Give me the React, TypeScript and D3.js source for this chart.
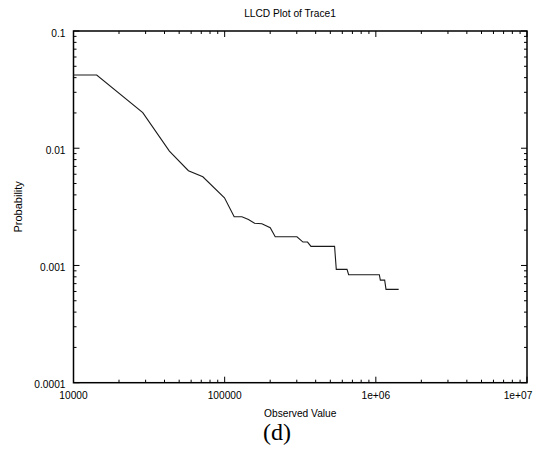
import React from "react";
import * as d3 from "d3";

const observedValues: number[] = [
  10000, 14240, 28720, 43090, 57590, 71720, 99700, 115600, 130000, 143700,
  157600, 176300, 200200, 216000, 300800, 329500, 353400, 372400, 533500,
  547400, 644800, 660700, 1054900, 1071000, 1144000, 1168000, 1416000,
];
const probabilities: number[] = [
  0.0421, 0.0421, 0.0201, 0.00946, 0.00643, 0.00571, 0.00378, 0.0026, 0.0026,
  0.00247, 0.00229, 0.00227, 0.0021, 0.001757, 0.001757, 0.001584, 0.001584,
  0.001455, 0.001455, 0.000926, 0.000926, 0.000833, 0.000833, 0.00075,
  0.00075, 0.000625, 0.000625,
];
const xTickValues: number[] = [1e4, 1e5, 1e6, 1e7];
const xTickLabels: string[] = ["10000", "100000", "1e+06", "1e+07"];
const yTickValues: number[] = [0.1, 0.01, 0.001, 0.0001];
const yTickLabels: string[] = ["0.1", "0.01", "0.001", "0.0001"];

const W = 544;
const H = 450;
const L = 73.5;
const R = 527;
const T = 31;
const B = 382.7;
const FONT = "'Liberation Sans', Arial, sans-serif";

export default function App() {
  const x = d3.scaleLog().domain([1e4, 1e7]).range([L, R]);
  const y = d3.scaleLog().domain([1e-4, 0.1]).range([B, T]);
  const pts = observedValues.map((v, i) => [v, probabilities[i]] as [number, number]);
  const line = d3
    .line<[number, number]>()
    .x((d) => x(d[0]))
    .y((d) => y(d[1]));

  const xMinor: number[] = [];
  for (let e = 4; e < 7; e++) for (let k = 2; k <= 9; k++) xMinor.push(k * Math.pow(10, e));
  const yMinor: number[] = [];
  for (let e = -4; e < -1; e++) for (let k = 2; k <= 9; k++) yMinor.push(k * Math.pow(10, e));

  const majorLen = 6;
  const minorLen = 3;

  return (
    <svg
      width={W}
      height={H}
      style={{ position: "absolute", left: 0, top: 0, background: "#fff" }}
    >
      <rect x={0} y={0} width={W} height={H} fill="#fff" />
      <g stroke="#000" strokeWidth={1}>
        {xMinor.map((v) => (
          <g key={"xm" + v}>
            <line x1={x(v)} x2={x(v)} y1={B} y2={B - minorLen} />
            <line x1={x(v)} x2={x(v)} y1={T} y2={T + minorLen} />
          </g>
        ))}
        {xTickValues.map((v) => (
          <g key={"xM" + v}>
            <line x1={x(v)} x2={x(v)} y1={B} y2={B - majorLen} />
            <line x1={x(v)} x2={x(v)} y1={T} y2={T + majorLen} />
          </g>
        ))}
        {yMinor.map((v) => (
          <g key={"ym" + v}>
            <line x1={L} x2={L + minorLen} y1={y(v)} y2={y(v)} />
            <line x1={R} x2={R - minorLen} y1={y(v)} y2={y(v)} />
          </g>
        ))}
        {yTickValues.map((v) => (
          <g key={"yM" + v}>
            <line x1={L} x2={L + majorLen} y1={y(v)} y2={y(v)} />
            <line x1={R} x2={R - majorLen} y1={y(v)} y2={y(v)} />
          </g>
        ))}
      </g>
      <rect
        x={L}
        y={T}
        width={R - L}
        height={B - T}
        fill="none"
        stroke="#000"
        strokeWidth={1.5}
      />
      <path d={line(pts) || ""} fill="none" stroke="#1a1a1a" strokeWidth={1.1} />
      <g fontFamily={FONT} fontSize={10.2} fill="#000">
        {xTickValues.map((v, i) => (
          <text
            key={"xl" + v}
            x={i === xTickValues.length - 1 ? x(v) - 9 : x(v)}
            y={B + 16}
            textAnchor="middle"
          >
            {xTickLabels[i]}
          </text>
        ))}
        {yTickValues.map((v, i) => (
          <text key={"yl" + v} x={L - 8} y={y(v) + 5.5} textAnchor="end">
            {yTickLabels[i]}
          </text>
        ))}
        <text x={290} y={17} textAnchor="middle">
          LLCD Plot of Trace1
        </text>
        <text x={(L + R) / 2} y={417} textAnchor="middle">
          Observed Value
        </text>
        <text
          transform={`translate(22,${(T + B) / 2}) rotate(-90)`}
          textAnchor="middle"
          fontSize={11}
        >
          Probability
        </text>
      </g>
      <text
        x={277}
        y={440}
        textAnchor="middle"
        fontFamily="'Liberation Serif', 'Times New Roman', serif"
        fontSize={24}
        fill="#000"
      >
        (d)
      </text>
    </svg>
  );
}
